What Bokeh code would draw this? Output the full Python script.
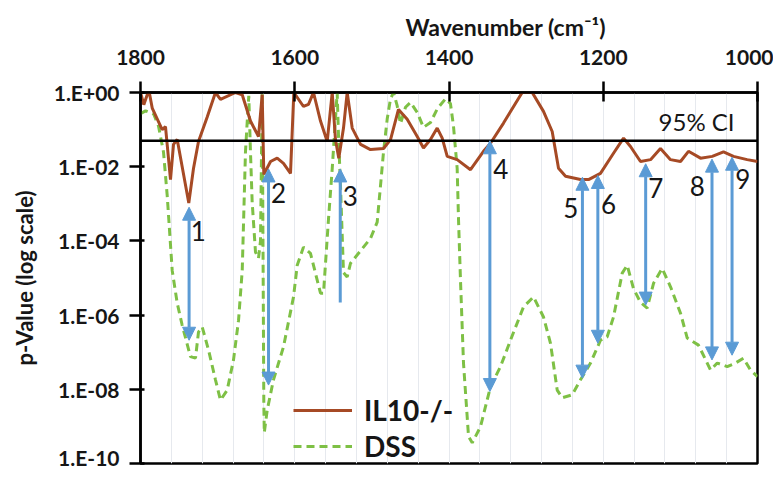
from bokeh.plotting import figure
from bokeh.models import (Arrow, NormalHead, Range1d, FixedTicker, CustomJSTickFormatter,
                          Title, Span, Label, ColumnDataSource)
from bokeh.core.properties import value
from bokeh.embed import file_html
from bokeh.resources import INLINE

# ---------------- data ----------------
il10_wn = [1800, 1795.7, 1791.3, 1788.3, 1784.8, 1771.9, 1767.6, 1761.1, 1757.2, 1752.4,
           1737.4, 1731.3, 1724.8, 1713.5, 1702.8, 1696.3, 1676.8, 1668.1, 1657.4, 1647.0,
           1642.2, 1640.1, 1631.4, 1622.8, 1614.6, 1605.5, 1601.2, 1588.7, 1582.2, 1575.7,
           1566.6, 1557.9, 1551.4, 1547.2, 1542.9, 1536.8, 1532.0, 1525.5, 1514.7, 1501.8,
           1484.9, 1475.8, 1465.5, 1454.2, 1441.2, 1433.1, 1424.0, 1415.3, 1408.8, 1402.3,
           1389.4, 1372.1, 1355.3, 1346.2, 1329.3, 1305.1, 1292.1, 1277.5, 1266.2, 1258.0,
           1248.9, 1229.5, 1219.1, 1203.6, 1186.7, 1173.7, 1164.7, 1151.7, 1138.7, 1125.8,
           1112.8, 1099.8, 1089.5, 1073.9, 1058.7, 1044.1, 1031.1, 1013.4, 1000]
il10_p = [1.0, 0.47, 0.87, 0.93, 0.38, 0.10, 0.12, 4.5e-3, 0.040, 0.054,
          1.05e-3, 8.9e-3, 0.048, 0.22, 1.0, 0.65, 1.0, 0.87, 0.17, 0.065,
          0.87, 6.2e-3, 0.0138, 0.017, 0.0123, 6.6e-3, 1.0, 0.42, 0.48, 1.0,
          0.17, 0.048, 1.0, 0.054, 0.017, 0.11, 1.0, 0.11, 0.040, 0.029,
          0.031, 0.054, 0.35, 0.19, 0.065, 0.032, 0.054, 0.11, 0.059, 0.019,
          0.0155, 8.3e-3, 0.026, 0.043, 0.15, 1.0, 1.0, 0.31, 0.089, 9.1e-3,
          5.5e-3, 4.5e-3, 4.5e-3, 6.6e-3, 0.023, 0.059, 0.035, 0.0138, 0.0155, 0.031,
          0.0155, 0.0138, 0.026, 0.017, 0.019, 0.025, 0.019, 0.0155, 0.0138]

dss_wn = [1800, 1793.5, 1782.8, 1776.7, 1770.2, 1765.4, 1758.9, 1752.4, 1746.0, 1735.2,
          1728.7, 1724.8, 1720.0, 1711.8, 1702.8, 1696.3, 1687.6, 1679.4, 1672.9, 1668.1,
          1663.9, 1661.7, 1659.6, 1657.4, 1655.2, 1650.9, 1647.0, 1644.4, 1642.2, 1640.1,
          1639.5, 1635.7, 1627.6, 1614.6, 1601.6, 1596.8, 1588.7, 1579.6, 1566.6, 1562.7,
          1556.2, 1551.4, 1547.2, 1545.0, 1543.3, 1540.7, 1536.8, 1532.0, 1527.7, 1510.9,
          1501.8, 1493.1, 1488.8, 1484.9, 1480.1, 1475.8, 1471.9, 1467.2, 1462.9, 1456.4,
          1449.9, 1441.2, 1433.1, 1424.0, 1415.3, 1404.5, 1398.1, 1394.2, 1389.4, 1387.7,
          1385.1, 1381.2, 1374.7, 1369.9, 1359.2, 1346.2, 1333.2, 1320.3, 1303.4, 1290.4,
          1277.5, 1268.4, 1259.7, 1253.2, 1240.3, 1229.5, 1216.5, 1203.6, 1194.9, 1186.7,
          1175.4, 1168.9, 1160.8, 1151.7, 1143.0, 1134.8, 1123.6, 1112.8, 1099.8, 1091.1,
          1076.5, 1065.2, 1060.9, 1052.2, 1039.3, 1028.5, 1018.2, 1009.1, 1000]
dss_p = [0.27, 0.32, 0.26, 0.126, 0.025, 1.7e-3, 1.6e-5, 2.1e-6, 5.4e-7, 7.6e-8,
         6.9e-8, 3.5e-7, 4.8e-7, 1.15e-7, 1.8e-8, 5.1e-9, 9.5e-9, 6.2e-8, 7.2e-7, 1.6e-5,
         0.025, 0.155, 0.81, 0.025, 1.1e-3, 5.0e-5, 3.4e-5, 1.0e-4, 1.0, 4.3e-9,
         6.8e-10, 2.75e-9, 1.8e-8, 1.4e-7, 3.1e-6, 2.2e-5, 6.8e-5, 4.6e-5, 3.9e-6, 3.9e-6,
         4.0e-4, 8.9e-3, 0.195, 1.0, 0.069, 3.1e-3, 1.4e-5, 1.07e-5, 2.5e-5, 6.8e-5,
         1.17e-4, 3.2e-4, 3.1e-3, 0.025, 0.195, 0.68, 1.0, 0.44, 0.145, 0.40,
         0.54, 0.29, 0.115, 0.155, 0.36, 0.68, 0.50, 0.126, 8.9e-3, 4.0e-4,
         8.7e-6, 5.1e-8, 5.4e-10, 3.6e-10, 9.8e-10, 1.17e-8, 4.1e-8, 2.1e-7, 1.66e-6, 3.1e-6,
         8.9e-7, 1.74e-7, 9.5e-9, 5.9e-9, 7.1e-9, 1.8e-8, 5.1e-8, 2.1e-7, 2.6e-7, 8.9e-7,
         1.35e-5, 2.2e-5, 5.2e-6, 2.2e-6, 1.55e-6, 7.2e-6, 1.8e-5, 5.8e-6, 1.12e-6, 2.4e-7,
         1.55e-7, 5.1e-8, 3.3e-8, 5.1e-8, 4.1e-8, 5.1e-8, 6.9e-8, 3.3e-8, 2.2e-8]

arrow_ids = ["1", "2", "3", "4", "5", "6", "7", "8", "9"]
arrow_wn = [1737, 1634, 1541, 1347, 1227, 1207, 1145, 1059, 1033]
arrow_top = [8.1e-4, 8.7e-3, 8.7e-3, 0.05, 5.2e-3, 5.8e-3, 0.012, 0.016, 0.018]
arrow_bottom = [2.1e-7, 1.3e-8, 2.2e-6, 8.7e-9, 2.0e-8, 1.74e-7, 1.86e-6, 6.2e-8, 8.3e-8]
arrow_two_heads = [True, True, False, True, True, True, True, True, True]

# annotation anchors for the arrow numbers
num_wn = [1725, 1621, 1528, 1333, 1242, 1193, 1132, 1078, 1019]
num_p = [1.9e-4, 1.9e-3, 1.66e-3, 8.9e-3, 7.9e-4, 1.0e-3, 2.75e-3, 3.1e-3, 4.8e-3]

ci_level = 0.05
ci_text = "95% CI"

y_tick_values = [1e0, 1e-2, 1e-4, 1e-6, 1e-8, 1e-10]
y_tick_labels = ["1.E+00", "1.E-02", "1.E-04", "1.E-06", "1.E-08", "1.E-10"]
x_tick_values = [1800, 1600, 1400, 1200, 1000]

# ---------------- style ----------------
FONT = "Lato"
TXT = "#161616"
BROWN = "#A64A25"
GREEN = "#7EC045"
BLUE = "#5B9BD5"

p = figure(output_backend="svg", toolbar_location=None,
           x_range=Range1d(1800, 1000), y_range=Range1d(1e-10, 1.0),
           y_axis_type="log", x_axis_location="above",
           width=773, height=469,
           min_border_left=140, min_border_top=92, min_border_right=16, min_border_bottom=6)
p.background_fill_color = "white"
p.outline_line_color = "black"
p.outline_line_width = 2.5

# grid
p.ygrid.grid_line_color = None
p.xgrid.ticker = FixedTicker(ticks=list(range(1000, 1801, 40)))
p.xgrid.grid_line_color = "#e6e9ee"
p.xgrid.grid_line_width = 1

# x axis (top)
xa = p.xaxis[0]
xa.ticker = FixedTicker(ticks=x_tick_values)
xa.axis_line_width = 2.5
xa.axis_line_color = "black"
xa.major_tick_line_width = 2.5
xa.major_tick_out = 11
xa.major_tick_in = 9
xa.minor_tick_line_color = None
xa.major_label_text_font = FONT
xa.major_label_text_font_style = "bold"
xa.major_label_text_font_size = "21px"
xa.major_label_text_color = TXT
xa.major_label_standoff = 17

# y axis
ya = p.yaxis[0]
ya.ticker = FixedTicker(ticks=y_tick_values)
ya.formatter = CustomJSTickFormatter(args=dict(labels=y_tick_labels), code="""
    const i = Math.round(-Math.log10(tick) / 2);
    return labels[i];
""")
ya.axis_line_width = 2.5
ya.axis_line_color = "black"
ya.major_tick_line_width = 2.5
ya.major_tick_out = 11
ya.major_tick_in = 4
ya.minor_tick_line_color = None
ya.major_label_text_font = FONT
ya.major_label_text_font_style = "bold"
ya.major_label_text_font_size = "21px"
ya.major_label_text_color = TXT
ya.major_label_standoff = 10
ya.axis_label = "p-Value (log scale)"
ya.axis_label_text_font = FONT
ya.axis_label_text_font_style = "bold"
ya.axis_label_text_font_size = "22px"
ya.axis_label_text_color = TXT
ya.axis_label_standoff = 13

# title above top axis
t = Title(text="Wavenumber (cm\u207b\u00b9)", align="left", offset=265, standoff=11,
          text_font=FONT, text_font_style="bold", text_font_size="23px", text_color=TXT)
p.add_layout(t, "above")

# 95% CI line
p.add_layout(Span(location=ci_level, dimension="width", line_color="black", line_width=2.5))
p.add_layout(Label(x=1079, y=0.17, text=ci_text, text_align="center", text_baseline="middle",
                   text_font=FONT, text_font_size="24px", text_color=TXT))

# series
p.line(dss_wn, dss_p, line_color=GREEN, line_width=3, line_dash="8 5", legend_label="DSS")
p.line(il10_wn, il10_p, line_color=BROWN, line_width=3, legend_label="IL10-/-")

# arrows
two = ColumnDataSource(dict(
    x=[w for w, h in zip(arrow_wn, arrow_two_heads) if h],
    yt=[v for v, h in zip(arrow_top, arrow_two_heads) if h],
    yb=[v for v, h in zip(arrow_bottom, arrow_two_heads) if h]))
one = ColumnDataSource(dict(
    x=[w for w, h in zip(arrow_wn, arrow_two_heads) if not h],
    yt=[v for v, h in zip(arrow_top, arrow_two_heads) if not h],
    yb=[v for v, h in zip(arrow_bottom, arrow_two_heads) if not h]))


def head():
    return NormalHead(size=13, fill_color=BLUE, line_color=BLUE, line_width=1)


p.add_layout(Arrow(x_start="x", y_start="yb", x_end="x", y_end="yt", source=two,
                   start=head(), end=head(), line_color=BLUE, line_width=3))
p.add_layout(Arrow(x_start="x", y_start="yb", x_end="x", y_end="yt", source=one,
                   start=None, end=head(), line_color=BLUE, line_width=3))

p.text(x=num_wn, y=num_p, text=arrow_ids, text_align="center", text_baseline="middle",
       text_font=value(FONT), text_font_size="26px", text_color=TXT)

# legend
lg = p.legend[0]
lg.items = list(reversed(lg.items))
lg.location = (153, 0)
lg.border_line_color = None
lg.background_fill_alpha = 0
lg.padding = 0
lg.margin = 0
lg.spacing = 2
lg.glyph_width = 59
lg.glyph_height = 26
lg.label_height = 26
lg.label_standoff = 12
lg.label_text_font = FONT
lg.label_text_font_style = "bold"
lg.label_text_font_size = "28px"
lg.label_text_color = TXT

open("out.html", "w").write(file_html(p, INLINE))
